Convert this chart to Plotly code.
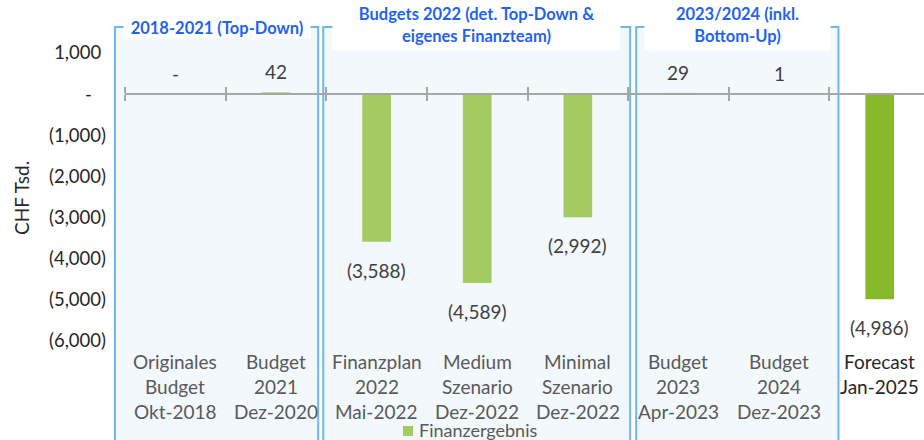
import plotly.graph_objects as go

# ---------------- data ----------------
categories = ["Originales Budget Okt-2018", "Budget 2021 Dez-2020", "Finanzplan 2022 Mai-2022",
              "Medium Szenario Dez-2022", "Minimal Szenario Dez-2022", "Budget 2023 Apr-2023",
              "Budget 2024 Dez-2023", "Forecast Jan-2025"]
category_lines = [["Originales", "Budget", "Okt-2018"],
                  ["Budget", "2021", "Dez-2020"],
                  ["Finanzplan", "2022", "Mai-2022"],
                  ["Medium", "Szenario", "Dez-2022"],
                  ["Minimal", "Szenario", "Dez-2022"],
                  ["Budget", "2023", "Apr-2023"],
                  ["Budget", "2024", "Dez-2023"],
                  ["Forecast", "Jan-2025"]]
finanzergebnis = [0, 42, -3588, -4589, -2992, 29, 1, -4986]
series_name = "Finanzergebnis"

y_tick_vals = [1000, 0, -1000, -2000, -3000, -4000, -5000, -6000]
y_tick_text = ["1,000\u00a0", "-\u00a0\u00a0\u00a0", "(1,000)", "(2,000)", "(3,000)",
               "(4,000)", "(5,000)", "(6,000)"]
y_title = "CHF Tsd."

group_titles = ["2018-2021 (Top-Down)",
                "Budgets 2022 (det. Top-Down &<br>eigenes Finanzteam)",
                "2023/2024 (inkl.<br>Bottom-Up)"]
group_members = [(0, 1), (2, 4), (5, 6)]

# ---------------- style / layout constants ----------------
W, H = 924, 440
ML, MR, MT, MB = 125, 0, 20, 90
PLOT_W = W - ML - MR
PLOT_H = H - MT - MB
PLOT_BOT = H - MB
X_MIN, X_MAX = -0.5, 7.44
Y_MIN, Y_MAX = -6220, 1801
FONT = "Lato"
BAR_COLORS = ["#A3CB62"] * 7 + ["#86BA2A"]
BOX_FILL = "#F3F8FC"
BOX_LINE = "#6DB8E8"
HEAD_COLOR = "#1F63F0"
AXIS_COLOR = "#A6A6A6"
# box edge offsets (category units) relative to group boundaries
box_pads = [(-0.10, -0.08), (-0.03, 0.02), (0.08, 0.09)]
head_boxes = [(186, 20, 28), (287, 50, 25), (185, 50, 25)]  # width px, height px, center px


def px_y(px):
    return (PLOT_BOT - px) / PLOT_H


def px_x(px):
    return (px - ML) / PLOT_W


def paper_x(xv):
    return (xv - X_MIN) / (X_MAX - X_MIN)


def fmt(v):
    if v == 0:
        return "-"
    if v < 0:
        return "({:,})".format(-v)
    return "{:,}".format(v)


fig = go.Figure()
fig.add_trace(go.Bar(
    x=list(range(len(categories))), y=finanzergebnis, name=series_name,
    marker=dict(color=BAR_COLORS, line=dict(width=0)),
    width=0.285, showlegend=False, hovertext=categories,
))

shapes = []
annotations = []
for (a, b), (pl, pr), title, (hw, hh, hc) in zip(group_members, box_pads, group_titles, head_boxes):
    x0 = paper_x(a - 0.5 + pl)
    x1 = paper_x(b + 0.5 + pr)
    shapes.append(dict(type="rect", xref="paper", yref="paper", x0=x0, x1=x1,
                       y0=-0.5, y1=px_y(27), fillcolor=BOX_FILL,
                       line=dict(color=BOX_LINE, width=2), layer="below"))
    annotations.append(dict(xref="paper", yref="paper", x=(x0 + x1) / 2, y=px_y(hc),
                            text="<b>" + title + "</b>", showarrow=False,
                            font=dict(family=FONT, size=16.5, color=HEAD_COLOR),
                            bgcolor="white", width=hw, height=hh, borderpad=0,
                            xanchor="center", yanchor="middle"))

# data labels
for i, v in enumerate(finanzergebnis):
    annotations.append(dict(x=i, y=v, xref="x", yref="y", text=fmt(v), showarrow=False,
                            yanchor="bottom" if v >= 0 else "top",
                            yshift=7 if v >= 0 else -15,
                            font=dict(family=FONT, size=19, color="#404040")))

# category labels (low position)
for i, lines in enumerate(category_lines):
    col = "#262626" if i == len(category_lines) - 1 else "#595959"
    for j, t in enumerate(lines):
        annotations.append(dict(x=i, y=px_y(361 + 25 * j), xref="x", yref="paper",
                                text=t, showarrow=False, yanchor="middle",
                                font=dict(family=FONT, size=19, color=col)))

annotations.append(dict(xref="paper", yref="paper", x=px_x(22),
                        y=px_y(198), text=y_title, textangle=-90, showarrow=False,
                        xanchor="center", yanchor="middle",
                        font=dict(family=FONT, size=19, color="#262626")))

# legend (drawn manually so that it does not push the plot margins)
shapes.append(dict(type="rect", xref="paper", yref="paper", x0=px_x(403), x1=px_x(413),
                   y0=px_y(436), y1=px_y(426), fillcolor=BAR_COLORS[0],
                   line=dict(width=0), layer="above"))
annotations.append(dict(xref="paper", yref="paper", x=px_x(417), y=px_y(430),
                        text=series_name, showarrow=False, xanchor="left", yanchor="middle",
                        font=dict(family=FONT, size=18, color="#595959")))

zero_pos = (0 - Y_MIN) / (Y_MAX - Y_MIN)
boundaries = [i - 0.5 for i in range(len(categories) + 1)]

fig.update_layout(
    width=W, height=H, margin=dict(l=ML, r=MR, t=MT, b=MB, autoexpand=False),
    paper_bgcolor="white", plot_bgcolor="rgba(0,0,0,0)",
    font=dict(family=FONT, size=19, color="#262626"),
    shapes=shapes, annotations=annotations,
    xaxis=dict(range=[X_MIN, X_MAX], showticklabels=False, showgrid=False,
               zeroline=False, showline=False, ticks=""),
    xaxis2=dict(range=[X_MIN, X_MAX], overlaying="x", anchor="free", position=zero_pos,
                side="bottom", showline=True, linecolor=AXIS_COLOR, linewidth=1.5,
                ticks="outside", ticklen=6, tickcolor=AXIS_COLOR, tickwidth=1.5,
                tickvals=boundaries, showticklabels=False, showgrid=False, zeroline=False),
    xaxis3=dict(range=[X_MIN, X_MAX], overlaying="x", anchor="free", position=zero_pos,
                side="top", showline=True, linecolor=AXIS_COLOR, linewidth=1.5,
                ticks="outside", ticklen=6, tickcolor=AXIS_COLOR, tickwidth=1.5,
                tickvals=boundaries, showticklabels=False, showgrid=False, zeroline=False),
    yaxis=dict(range=[Y_MIN, Y_MAX], tickvals=y_tick_vals, ticktext=y_tick_text,
               showgrid=False, zeroline=False, showline=False, ticks="",
               ticklabelstandoff=18, tickfont=dict(family=FONT, size=18.5, color="#262626")),
    showlegend=False,
)
# invisible helper traces to activate the overlay axes at y = 0
fig.add_trace(go.Scatter(x=[X_MIN], y=[0], xaxis="x2", mode="markers",
                         marker=dict(opacity=0), showlegend=False, hoverinfo="skip"))
fig.add_trace(go.Scatter(x=[X_MIN], y=[0], xaxis="x3", mode="markers",
                         marker=dict(opacity=0), showlegend=False, hoverinfo="skip"))

# remove the default page margin so the figure fills the 924x440 window exactly
page_css = ("document.documentElement.style.margin='0';"
            "document.documentElement.style.overflow='hidden';"
            "document.body.style.margin='0';document.body.style.overflow='hidden';")
fig.write_html("out.html", post_script=page_css, config={"displayModeBar": False})
